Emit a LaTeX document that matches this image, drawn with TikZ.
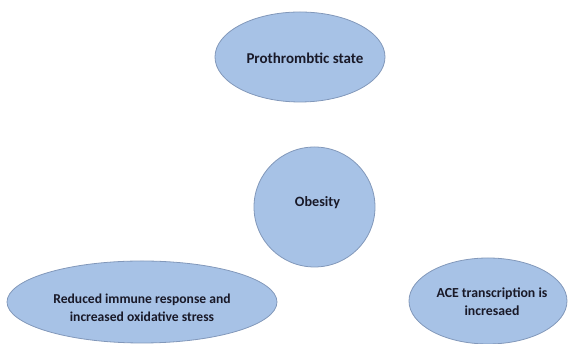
\documentclass[tikz,border=0pt]{standalone}
\usepackage{fontspec}
\setmainfont{Carlito}
\usetikzlibrary{shapes.geometric}
\definecolor{bubblefill}{RGB}{167,194,230}
\definecolor{bubbleline}{RGB}{130,152,186}
\definecolor{bubbletext}{RGB}{25,25,40}
\tikzset{
  bubble/.style={ellipse, draw=bubbleline, line width=0.8pt, fill=bubblefill, inner sep=0pt},
  bubbletxt/.style={text=bubbletext, align=center, font=\bfseries}
}
\begin{document}
\begin{tikzpicture}[x=1pt,y=1pt]
\useasboundingbox (0,0) rectangle (576,344);
\node[bubble, minimum width=170pt, minimum height=90pt,
  label={[bubbletxt, font=\bfseries\fontsize{15}{18}\selectfont, xshift=5pt, yshift=-1pt]center:Prothrombtic state}] (pro) at (300,287) {};
\node[bubble, minimum width=121pt, minimum height=120pt,
  label={[bubbletxt, font=\bfseries\fontsize{14.2}{18}\selectfont, xshift=3pt, yshift=4pt]center:Obesity}] (obe) at (314.5,137) {};
\node[bubble, minimum width=270pt, minimum height=82pt,
  label={[bubbletxt, font=\bfseries\fontsize{13.6}{18}\selectfont, yshift=-6pt]center:Reduced immune response and\\increased oxidative stress}] (imm) at (142,42) {};
\node[bubble, minimum width=158pt, minimum height=86pt,
  label={[bubbletxt, font=\bfseries\fontsize{13.8}{18}\selectfont, xshift=4pt, yshift=-1pt]center:ACE transcription is\\incresaed}] (ace) at (488,43) {};
\end{tikzpicture}
\end{document}
